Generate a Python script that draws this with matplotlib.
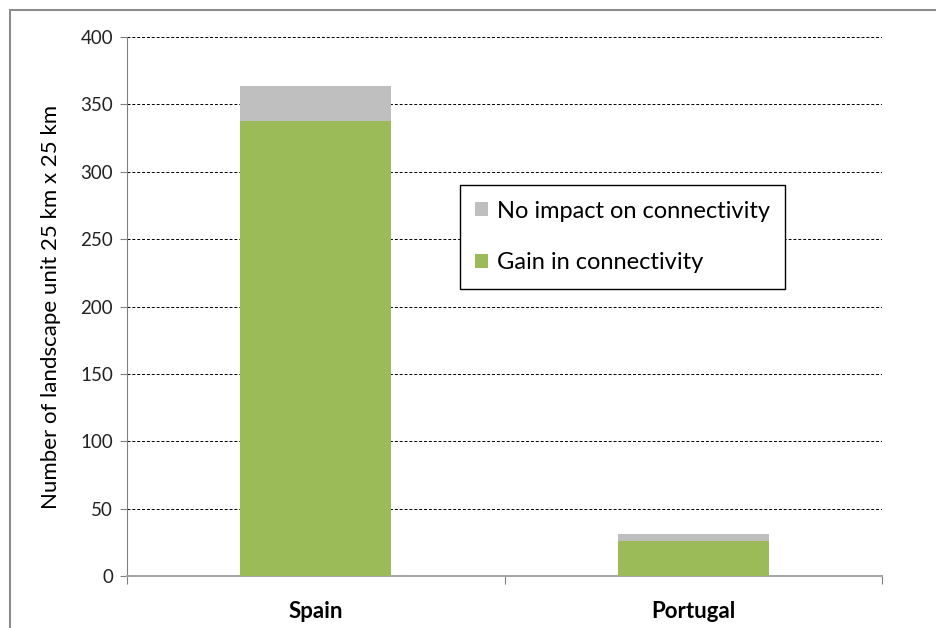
import matplotlib
matplotlib.use("Agg")
import matplotlib.pyplot as plt
from matplotlib.patches import Rectangle
import numpy as np

categories = ["Spain", "Portugal"]
gain = [338, 26]
no_impact = [26, 5]
yticks = [0, 50, 100, 150, 200, 250, 300, 350, 400]

plt.rcParams['font.family'] = ['Lato', 'DejaVu Sans']

fig = plt.figure(figsize=(9.36, 6.28), dpi=100)
ax = fig.add_axes([127/936, 1-576/628, (882-127)/936, (576-37)/628])

# outer frame
fig.patches.append(Rectangle((10/936, -0.1), 1.2, 1-10/628+0.1, transform=fig.transFigure,
                             fill=False, edgecolor='#8c8c8c', linewidth=1.5))

x = np.arange(len(categories))
green = '#9BBB59'
grey = '#BFBFBF'
b1 = ax.bar(x, gain, width=0.4, color=green, zorder=3, label='Gain in connectivity')
b2 = ax.bar(x, no_impact, bottom=gain, width=0.4, color=grey, zorder=3, label='No impact on connectivity')

ax.set_xlim(-0.5, 1.5)
ax.set_ylim(0, 400)
ax.set_yticks(yticks)
ax.set_yticklabels([str(v) for v in yticks], fontsize=13.5, color='#222222')
for v in yticks[1:]:
    ax.axhline(v, color='black', linestyle=(0, (3, 2)), linewidth=0.7, zorder=1)

ax.set_xticks([-0.5, 0.5, 1.5], minor=False)
ax.set_xticklabels([])
ax.set_xticks(x, minor=True)
ax.set_xticklabels(categories, minor=True, fontsize=16, fontweight='bold')
ax.tick_params(axis='x', which='minor', length=0, pad=18)
ax.tick_params(axis='x', which='major', length=6, color='#808080', direction='out')
ax.tick_params(axis='y', length=5, color='#808080', direction='out', pad=5)

for s in ['top', 'right']:
    ax.spines[s].set_visible(False)
ax.spines['left'].set_color('#808080')
ax.spines['bottom'].set_color('#a6a6a6')
ax.spines['bottom'].set_linewidth(1.5)

ax.set_ylabel('Number of landscape unit 25 km x 25 km', fontsize=16, labelpad=14)

leg = ax.legend(handles=[b2, b1], loc='upper left', bbox_to_anchor=(0.441, 0.725),
                fancybox=False, edgecolor='black', fontsize=17, handlelength=0.55,
                handleheight=0.55, handletextpad=0.35, labelspacing=1.3, borderpad=0.65,
                borderaxespad=0, framealpha=1)
leg.get_frame().set_linewidth(1.0)

fig.savefig('out.png', dpi=100)
